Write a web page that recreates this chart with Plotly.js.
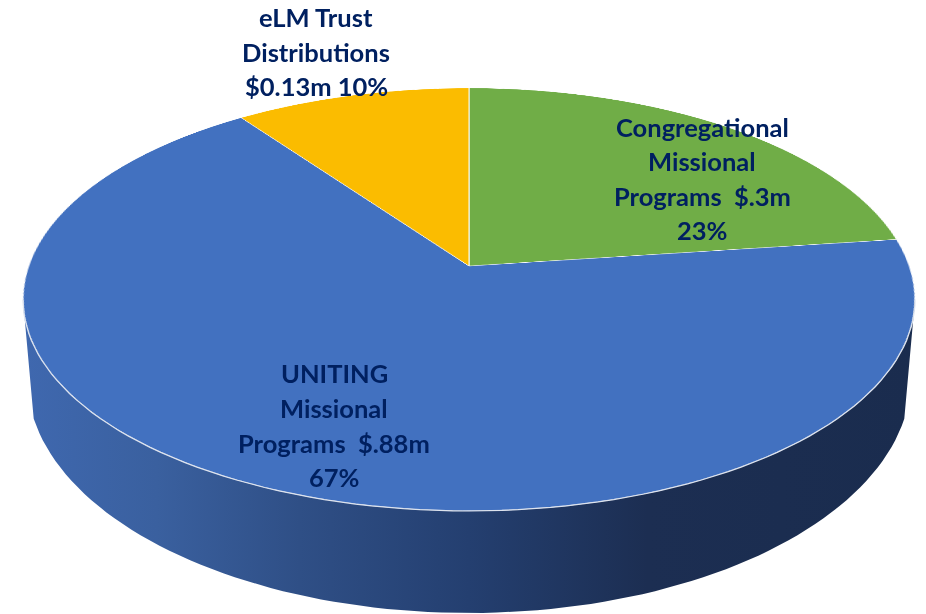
<!DOCTYPE html>
<html>
<head>
<meta charset="utf-8">
<script src="https://cdn.plot.ly/plotly-3.0.1.min.js"></script>
<style>
html,body{margin:0;padding:0;background:#fff;overflow:hidden}
#stage{position:relative;width:926px;height:614px;overflow:hidden;background:#fff}
#pie{position:absolute;left:0;top:0;width:900px;height:900px;transform-origin:0 0}
#over{position:absolute;left:0;top:0;width:926px;height:614px}
</style>
</head>
<body>
<div id="stage"><div id="pie"></div><div id="over"></div></div>
<script>
// Data
const categories = ["Congregational Missional Programs", "UNITING Missional Programs", "eLM Trust Distributions"];
const values = [0.3, 0.88, 0.13];
const sliceColors = ["#70AD47", "#4271C0", "#FBBC00"];
const labelLines = ["eLM Trust", "Distributions", "$0.13m 10%",
                    "Congregational", "Missional", "Programs  $.3m", "23%",
                    "UNITING", "Missional", "Programs  $.88m", "67%"];
const labelX = [316, 316, 316, 702, 702, 702, 702, 334, 334, 334, 334];
const labelY = [17, 52, 86, 127, 161, 196, 230, 373, 408, 443, 477];

// Tilted-disc projection (unit circle to screen)
const apexX = 469, apexY = 266, c = 0.1584, b = -164.06, k = 440.4;
const R = 440, cx = 450, cy = 450;

document.getElementById("pie").style.transform = "matrix3d(" + [
  k / R, 0, 0, 0,
  -apexX * c / R, -b / R, 0, -c / R,
  0, 0, 1, 0,
  apexX * (1 + c * cy / R) - k * cx / R, apexY + b * cy / R, 0, 1 + c * cy / R
].join(",") + ")";

Plotly.newPlot("pie", [{
  type: "pie", labels: categories, values: values, sort: false, direction: "clockwise",
  rotation: 0, textinfo: "none", hoverinfo: "none",
  marker: {colors: sliceColors, line: {color: "#FFFFFF", width: 1}}
}], {
  width: 900, height: 900, margin: {l: 10, r: 10, t: 10, b: 10},
  showlegend: false, paper_bgcolor: "rgba(0,0,0,0)"
}, {displayModeBar: false, staticPlot: true});

// Side wall
const rimX = [], rimY = [], baseX = [], baseY = [];
const off = Math.asin(c);
for (let deg = 0; deg <= 180; deg += 2) {
  const t = deg * Math.PI / 180;
  // lower half of the projected rim, from the widest point on the left to the right
  const a = Math.PI + off + t * (Math.PI - 2 * off) / Math.PI;
  const u = Math.cos(a), v = Math.sin(a);
  const w = 1 + c * v;
  rimX.push(apexX + k * u / w);
  rimY.push((apexY + b * v) / w);
  const tb = (10 + deg * 160 / 180) * Math.PI / 180;
  baseX.push(469 - 442 * Math.cos(tb));
  baseY.push(378 + 235 * Math.sin(tb));
}
const wallX = rimX.concat(baseX.slice().reverse(), [rimX[0]]);
const wallY = rimY.concat(baseY.slice().reverse(), [rimY[0]]);

const annotations = labelLines.map((s, i) => ({
  x: labelX[i], y: labelY[i] - 0.5, xref: "x", yref: "y", text: s, showarrow: false,
  xanchor: "center", yanchor: "middle",
  font: {family: "Lato, Carlito, sans-serif", size: 25.5, color: "#002060", weight: 700}
}));

Plotly.newPlot("over", [
  {type: "scatter", mode: "lines", x: wallX, y: wallY, fill: "toself", hoverinfo: "skip",
   line: {width: 0, color: "rgba(0,0,0,0)"},
   fillgradient: {type: "horizontal", start: 23, stop: 915,
     colorscale: [[0, "#3F68AF"], [0.15, "#3A609F"], [0.31, "#2F4F86"], [0.5, "#243F70"], [0.7, "#1C2E52"], [1, "#1A2C4E"]]}},
  {type: "scatter", mode: "lines", x: rimX, y: rimY, hoverinfo: "skip",
   line: {width: 1.2, color: "#DDE3EE"}}
], {
  width: 926, height: 614, margin: {l: 0, r: 0, t: 0, b: 0}, showlegend: false,
  paper_bgcolor: "rgba(0,0,0,0)", plot_bgcolor: "rgba(0,0,0,0)",
  xaxis: {range: [0, 926], visible: false, fixedrange: true},
  yaxis: {range: [614, 0], visible: false, fixedrange: true},
  annotations: annotations
}, {displayModeBar: false, staticPlot: true});
</script>
</body>
</html>
